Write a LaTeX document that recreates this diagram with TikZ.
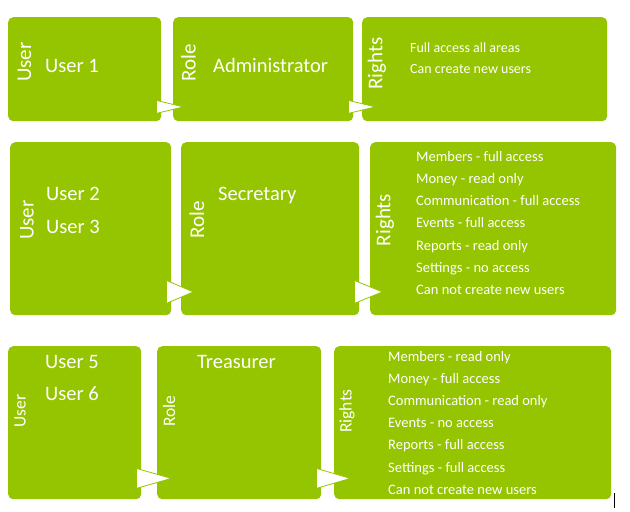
\documentclass[tikz,border=0pt]{standalone}
\usepackage{fontspec}
\setmainfont{Carlito}
\usetikzlibrary{calc}
\definecolor{leafgreen}{RGB}{149,197,0}
\tikzset{
  box/.style={fill=leafgreen, rounded corners=5pt, inner sep=0pt, anchor=north west},
  tag/.style={text=white, rotate=90, inner sep=0pt, font=\fontsize{21}{24}\selectfont},
  smalltag/.style={tag, font=\fontsize{17.5}{20}\selectfont},
  big/.style={text=white, anchor=base west, inner sep=0pt, font=\fontsize{20.5}{24}\selectfont},
  small/.style={text=white, anchor=base west, inner sep=0pt, font=\fontsize{14.5}{17}\selectfont},
  flow/.style={fill=white, draw=leafgreen, line width=0.8pt},
}
% triangle: box, length, half height, centre above bottom
\newcommand{\flowarrow}[4]{%
  \draw[flow] ($(#1.south east)+(-5,-#4-#3)$) -- ++(#2,#3) -- ++(-#2,#3) -- cycle;}
\begin{document}
\begin{tikzpicture}[x=1pt, y=-1pt]
    \useasboundingbox (0,0) rectangle (630,512);

    % Row 1 - Administrator
    \node[box, minimum width=153pt, minimum height=104pt] (user1) at (8,17) {};
    \node[box, minimum width=180pt, minimum height=104pt] (role1) at (173,17) {};
    \node[box, minimum width=245pt, minimum height=104pt] (rights1) at (362,17) {};
    \flowarrow{user1}{27}{6.5}{14.5}
    \flowarrow{role1}{27}{6.5}{14.5}
    \node[tag] (usertag1) at (24.5,62) {User};
    \node[tag] (roletag1) at (188.5,62.5) {Role};
    \node[tag] (righttag1) at (377,63.5) {Rights};
    \node[big] (name1) at (45,72) {User 1};
    \node[big] (rolename1) at (213,72) {Administrator};
    \node[small, font=\fontsize{14}{16}\selectfont] (aright0) at (410,52) {Full access all areas};
    \node[small, font=\fontsize{14}{16}\selectfont] (aright1) at (410,73.3) {Can create new users};

    % Row 2 - Secretary
    \node[box, minimum width=161pt, minimum height=173pt] (user2) at (10,142) {};
    \node[box, minimum width=178pt, minimum height=173pt] (role2) at (181,142) {};
    \node[box, minimum width=246pt, minimum height=173pt] (rights2) at (370,142) {};
    \flowarrow{user2}{27}{11.5}{23.5}
    \flowarrow{role2}{28}{11.5}{23.5}
    \node[tag] (usertag2) at (27,220) {User};
    \node[tag] (roletag2) at (197,220) {Role};
    \node[tag] (righttag2) at (385,220) {Rights};
    \node[big] (name2) at (46,200) {User 2};
    \node[big] (name3) at (46,233) {User 3};
    \node[big] (rolename2) at (218,200) {Secretary};
    \foreach \line [count=\i from 0] in {Members - full access, Money - read only,
        Communication - full access, Events - full access, Reports - read only,
        Settings - no access, Can not create new users}
        \node[small] (sright\i) at (416,161+22.3*\i) {\line};

    % Row 3 - Treasurer
    \node[box, minimum width=133pt, minimum height=153pt] (user3) at (8,346) {};
    \node[box, minimum width=164pt, minimum height=153pt] (role3) at (157,346) {};
    \node[box, minimum width=277pt, minimum height=153pt] (rights3) at (334,346) {};
    \flowarrow{user3}{35}{10}{21}
    \flowarrow{role3}{34}{10}{21}
    \node[smalltag] (usertag3) at (20,411) {User};
    \node[smalltag] (roletag3) at (169,411) {Role};
    \node[smalltag] (righttag3) at (347,411) {Rights};
    \node[big] (name5) at (45,368.3) {User 5};
    \node[big] (name6) at (45,400.7) {User 6};
    \node[big] (rolename3) at (197,368) {Treasurer};
    \foreach \line [count=\i from 0] in {Members - read only, Money - full access,
        Communication - read only, Events - no access, Reports - full access,
        Settings - full access, Can not create new users}
        \node[small] (tright\i) at (388,361+22.2*\i) {\line};

    % text cursor
    \draw[line width=0.8pt] (614,493) -- (614,508);
\end{tikzpicture}
\end{document}
